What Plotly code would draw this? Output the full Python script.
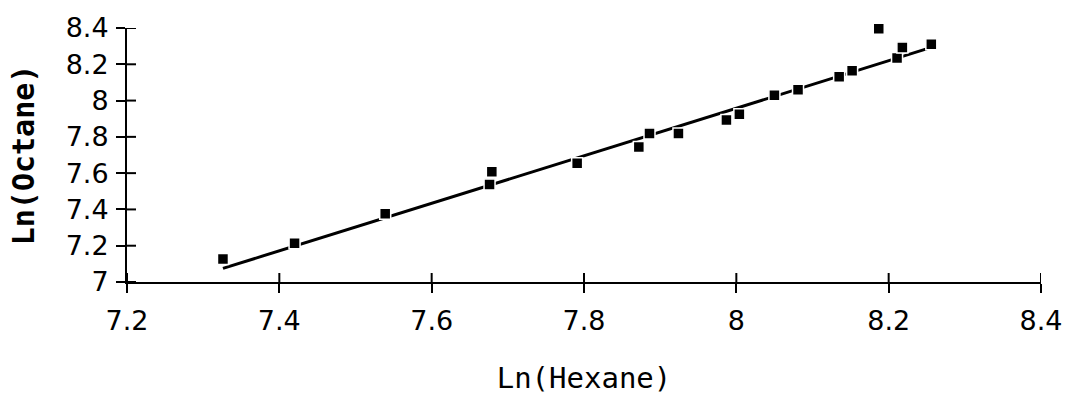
import plotly.graph_objects as go

# Data
hexane = [7.326, 7.420, 7.539, 7.676, 7.679, 7.791, 7.872, 7.886, 7.924, 7.987,
          8.004, 8.050, 8.081, 8.135, 8.152, 8.187, 8.211, 8.218, 8.256]
octane = [7.127, 7.213, 7.376, 7.538, 7.608, 7.654, 7.744, 7.819, 7.819, 7.893,
          7.924, 8.029, 8.060, 8.131, 8.164, 8.396, 8.234, 8.293, 8.310]

# Fitted trend line end points
fit_x = [7.326, 8.256]
fit_y = [7.075, 8.293]

x_ticks = [7.2, 7.4, 7.6, 7.8, 8.0, 8.2, 8.4]
x_tick_labels = ["7.2", "7.4", "7.6", "7.8", "8", "8.2", "8.4"]
y_ticks = [7.0, 7.2, 7.4, 7.6, 7.8, 8.0, 8.2, 8.4]
y_tick_labels = ["7", "7.2", "7.4", "7.6", "7.8", "8", "8.2", "8.4"]

W, H = 1066, 396
M_L, M_R, M_T, M_B = 127, 25, 28, 114
plot_w = W - M_L - M_R
plot_h = H - M_T - M_B
TICK = 9

fig = go.Figure()
fig.add_trace(go.Scatter(x=fit_x, y=fit_y, mode="lines",
                         line=dict(color="black", width=3), showlegend=False,
                         hoverinfo="skip"))
fig.add_trace(go.Scatter(x=hexane, y=octane, mode="markers", cliponaxis=False,
                         marker=dict(symbol="square", size=11, color="black",
                                     line=dict(color="white", width=1.5)),
                         showlegend=False))

# inner halves of the crossing tick marks
shapes = []
for xv in x_ticks:
    shapes.append(dict(type="line", xref="x", yref="paper", x0=xv, x1=xv,
                       y0=0, y1=TICK / plot_h, layer="above",
                       line=dict(color="black", width=2)))
for yv in y_ticks:
    shapes.append(dict(type="line", xref="paper", yref="y", x0=0, x1=TICK / plot_w,
                       y0=yv, y1=yv, layer="above",
                       line=dict(color="black", width=2)))

tickfont = dict(family="DejaVu Sans", size=27, color="black")

fig.update_layout(
    width=W, height=H,
    margin=dict(l=M_L, r=M_R, t=M_T, b=M_B, autoexpand=False),
    paper_bgcolor="white", plot_bgcolor="white",
    shapes=shapes,
    xaxis=dict(range=[7.2, 8.4], tickvals=x_ticks, ticktext=x_tick_labels,
               automargin=False,
               showgrid=False, zeroline=False, showline=True, linecolor="black",
               linewidth=2, ticks="outside", ticklen=TICK, tickwidth=2,
               tickcolor="black", tickfont=tickfont, ticklabelstandoff=5,
               title=dict(text="Ln(Hexane)", standoff=32,
                          font=dict(family="DejaVu Sans Mono", size=29, color="black"))),
    yaxis=dict(range=[7.0, 8.4], tickvals=y_ticks, ticktext=y_tick_labels,
               automargin=False,
               showgrid=False, zeroline=False, showline=True, linecolor="black",
               linewidth=2, ticks="outside", ticklen=TICK, tickwidth=2,
               tickcolor="black", tickfont=tickfont, ticklabelstandoff=2,
               title=dict(text="<b>Ln(Octane)</b>", standoff=22,
                          font=dict(family="DejaVu Sans Mono", size=30, color="black"))),
)

fig.write_html("out.html")
